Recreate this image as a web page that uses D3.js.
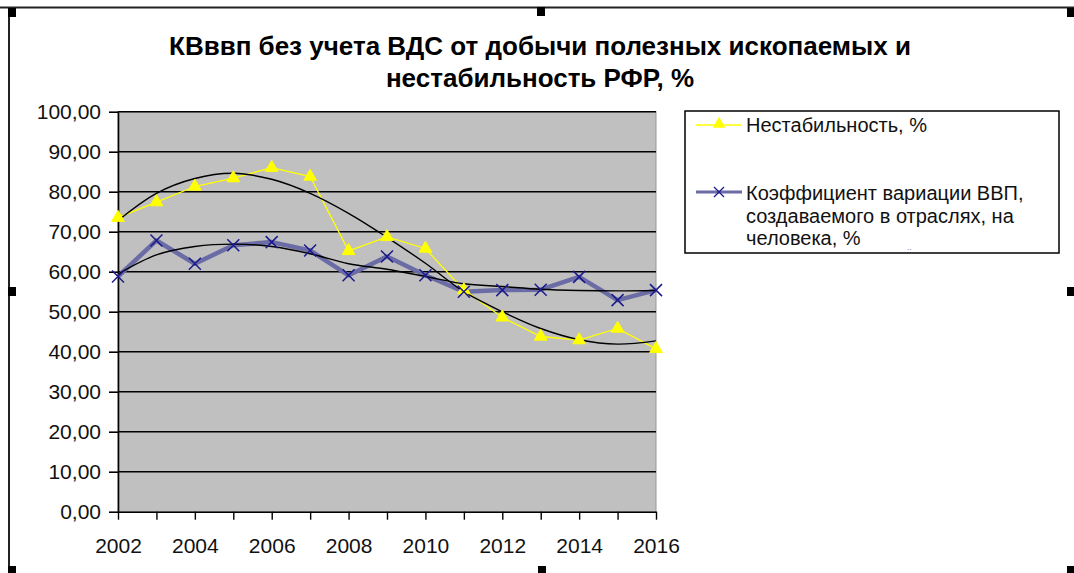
<!DOCTYPE html>
<html>
<head>
<meta charset="utf-8">
<script src="https://cdn.jsdelivr.net/npm/d3@7"></script>
<style>
  body { margin: 0; background: #fff; }
  svg { display: block; font-family: "Liberation Sans", Arial, sans-serif; }
</style>
</head>
<body>
<div id="plot"></div>
<script>
// values
const years = [2002, 2003, 2004, 2005, 2006, 2007, 2008, 2009, 2010, 2011, 2012, 2013, 2014, 2015, 2016];
const instability = [73.5, 77.4, 81.3, 83.4, 86.0, 83.8, 65.2, 68.7, 65.8, 55.4, 48.6, 43.8, 42.9, 45.8, 40.7];
const variation = [58.8, 67.8, 62.0, 66.6, 67.4, 65.3, 59.1, 63.8, 59.1, 55.0, 55.4, 55.5, 58.7, 52.9, 55.4];
// trend lines (as drawn by the spreadsheet)
const instabilityTrend = [72.8, 79.6, 83.3, 84.6, 83.1, 79.6, 74.6, 68.6, 62.1, 55.0, 50.0, 45.8, 43.0, 41.9, 42.7];
const variationTrend = [59.4, 64.2, 66.3, 66.9, 66.3, 64.5, 62.0, 60.6, 58.8, 57.0, 56.3, 55.6, 55.3, 55.2, 55.3];
const yTicks = [0, 10, 20, 30, 40, 50, 60, 70, 80, 90, 100];
const xLabels = [2002, 2004, 2006, 2008, 2010, 2012, 2014, 2016];
const titleLines = ["КВввп без учета ВДС от добычи полезных ископаемых и", "нестабильность РФР, %"];
const legendNames = ["Нестабильность, %", ["Коэффициент вариации ВВП,", "создаваемого в отраслях, на", "человека, %"]];

const width = 1074, height = 573;
const plotL = 118, plotR = 656, plotT = 111.7, plotB = 511.7;

const ru = d3.formatLocale({decimal: ",", thousands: " ", grouping: [3], currency: ["", ""]});
const fmt = ru.format(".2f");

const svg = d3.select("#plot").append("svg")
  .attr("width", width)
  .attr("height", height);

// frame of the selected chart object
svg.append("line").attr("x1", 0).attr("x2", width).attr("y1", 7.5).attr("y2", 7.5)
  .attr("stroke", "#222").attr("stroke-width", 2);
svg.append("line").attr("x1", 9).attr("x2", 9).attr("y1", 7).attr("y2", height)
  .attr("stroke", "#222").attr("stroke-width", 2);
const handles = [[8, 8], [537, 7], [1067, 8], [8, 287], [1067, 287], [8, 566], [538, 566], [1067, 566]];
svg.selectAll("rect.handle").data(handles).join("rect")
  .attr("class", "handle")
  .attr("x", d => d[0]).attr("y", d => d[1])
  .attr("width", 8).attr("height", 9)
  .attr("fill", "#000");

// title
svg.append("g").selectAll("text").data(titleLines).join("text")
  .attr("x", 540)
  .attr("y", (d, i) => 55 + i * 32)
  .attr("text-anchor", "middle")
  .attr("font-size", 26)
  .attr("font-weight", "bold")
  .text(d => d);

const x = d3.scaleLinear().domain([2002, 2016]).range([plotL, plotR]);
const y = d3.scaleLinear().domain([0, 100]).range([plotB, plotT]);

// plot area
svg.append("rect")
  .attr("x", plotL).attr("y", plotT)
  .attr("width", plotR - plotL).attr("height", plotB - plotT)
  .attr("fill", "#c0c0c0")
  .attr("stroke", "#999").attr("stroke-width", 1);

svg.append("g").selectAll("line").data(yTicks.slice(1)).join("line")
  .attr("x1", plotL).attr("x2", plotR)
  .attr("y1", d => y(d)).attr("y2", d => y(d))
  .attr("stroke", "#000").attr("stroke-width", 1.6);

// axes
const yAxis = svg.append("g")
  .attr("transform", `translate(${plotL},0)`)
  .call(d3.axisLeft(y).tickValues(yTicks).tickFormat(fmt).tickSize(9).tickPadding(8).tickSizeOuter(0));
yAxis.select(".domain").attr("stroke-width", 1.6);
yAxis.selectAll(".tick line").attr("stroke-width", 1.6);
yAxis.selectAll("text").attr("font-size", 21).attr("font-family", "Liberation Sans, Arial, sans-serif").attr("fill", "#111");

const xAxis = svg.append("g")
  .attr("transform", `translate(0,${plotB})`)
  .call(d3.axisBottom(x).tickValues(years).tickFormat(d => xLabels.includes(d) ? d : "").tickSize(8).tickPadding(18).tickSizeOuter(0));
xAxis.select(".domain").attr("stroke-width", 1.6);
xAxis.selectAll(".tick line").attr("stroke-width", 1.4);
xAxis.selectAll("text").attr("font-size", 21).attr("font-family", "Liberation Sans, Arial, sans-serif").attr("fill", "#111");

// series
const line = d3.line().x((d, i) => x(years[i])).y(d => y(d));
const smooth = d3.line().x((d, i) => x(years[i])).y(d => y(d)).curve(d3.curveCatmullRom);

svg.append("path").datum(variation)
  .attr("d", line).attr("fill", "none")
  .attr("stroke", "#6b6ba6").attr("stroke-width", 4.5).attr("stroke-linejoin", "round");

svg.append("path").datum(instability)
  .attr("d", line).attr("fill", "none")
  .attr("stroke", "#ffff00").attr("stroke-width", 1.3);

svg.append("path").datum(instabilityTrend)
  .attr("d", smooth).attr("fill", "none")
  .attr("stroke", "#000").attr("stroke-width", 1.4);
svg.append("path").datum(variationTrend)
  .attr("d", smooth).attr("fill", "none")
  .attr("stroke", "#000").attr("stroke-width", 1.4);

const tri = d3.symbol().type(d3.symbolTriangle).size(70);
const cross = "M-6,-6L6,6M-6,6L6,-6";

svg.append("g").selectAll("path").data(instability).join("path")
  .attr("transform", (d, i) => `translate(${x(years[i])},${y(d)})`)
  .attr("d", tri)
  .attr("fill", "#ffff00").attr("stroke", "#ffff00").attr("stroke-width", 1);

svg.append("g").selectAll("path").data(variation).join("path")
  .attr("transform", (d, i) => `translate(${x(years[i])},${y(d)})`)
  .attr("d", cross)
  .attr("stroke", "#1a1a8c").attr("stroke-width", 1.5);

// legend
const lg = svg.append("g");
lg.append("rect")
  .attr("x", 685).attr("y", 111).attr("width", 374).attr("height", 142)
  .attr("fill", "#fff").attr("stroke", "#000").attr("stroke-width", 1.5);

lg.append("line").attr("x1", 696).attr("x2", 742).attr("y1", 125).attr("y2", 125)
  .attr("stroke", "#ffff00").attr("stroke-width", 1.5);
lg.append("path").attr("transform", "translate(719,124)").attr("d", tri).attr("fill", "#ffff00");
lg.append("text").attr("x", 746).attr("y", 132).attr("font-size", 20).attr("fill", "#111").text(legendNames[0]);

lg.append("line").attr("x1", 696).attr("x2", 742).attr("y1", 192).attr("y2", 192)
  .attr("stroke", "#6b6ba6").attr("stroke-width", 3);
lg.append("path").attr("transform", "translate(719,192)").attr("d", "M-5,-5L5,5M-5,5L5,-5")
  .attr("stroke", "#1a1a8c").attr("stroke-width", 1.3);
lg.append("g").selectAll("text").data(legendNames[1]).join("text")
  .attr("x", 746).attr("y", (d, i) => 200 + i * 22.5)
  .attr("font-size", 20).attr("fill", "#111").text(d => d);
lg.append("text").attr("x", 907).attr("y", 250).attr("font-size", 8).attr("fill", "#555").text("..");
</script>
</body>
</html>
